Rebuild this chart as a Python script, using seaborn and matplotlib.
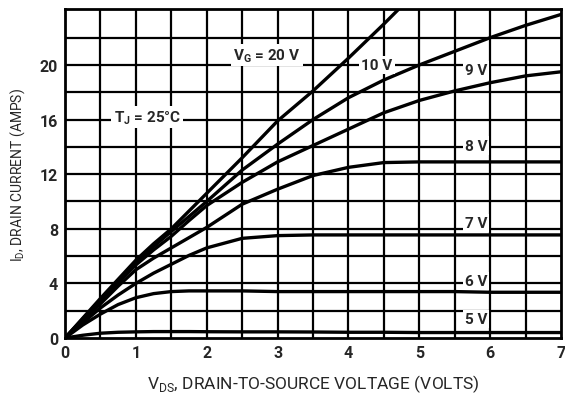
import matplotlib
matplotlib.use("Agg")
import matplotlib.pyplot as plt
import seaborn as sns
import pandas as pd
import numpy as np

# ---- data ----
vds_20 = [0, 0.25, 0.5, 0.75, 1, 1.25, 1.5, 1.75, 2, 2.5, 3, 3.5, 4, 4.5, 4.75]
id_20 = [0, 1.45, 2.9, 4.3, 5.7, 6.9, 8.0, 9.3, 10.6, 13.2, 15.9, 18.1, 20.5, 23.0, 24.3]

vds = [0, 0.25, 0.5, 0.75, 1, 1.25, 1.5, 1.75, 2, 2.5, 3, 3.5, 4, 4.5, 5, 5.5, 6, 6.5, 7]
id_10 = [0, 1.4, 2.8, 4.2, 5.55, 6.7, 7.8, 8.9, 10.0, 12.3, 14.2, 16.0, 17.6, 18.9, 20.0, 21.0, 22.0, 22.9, 23.7]
id_9 = [0, 1.35, 2.7, 4.05, 5.35, 6.45, 7.45, 8.6, 9.7, 11.4, 12.9, 14.1, 15.3, 16.5, 17.4, 18.1, 18.7, 19.2, 19.5]
id_8 = [0, 1.25, 2.5, 3.8, 5.0, 5.85, 6.6, 7.35, 8.1, 9.8, 10.9, 11.9, 12.5, 12.85, 12.9, 12.9, 12.9, 12.9, 12.9]
id_7 = [0, 1.1, 2.2, 3.15, 4.0, 4.75, 5.4, 6.05, 6.6, 7.3, 7.5, 7.55, 7.55, 7.55, 7.55, 7.55, 7.55, 7.55, 7.55]
id_6 = [0, 0.95, 1.75, 2.45, 2.95, 3.25, 3.4, 3.45, 3.45, 3.45, 3.4, 3.4, 3.4, 3.4, 3.4, 3.4, 3.35, 3.35, 3.35]
id_5 = [0, 0.2, 0.35, 0.42, 0.45, 0.47, 0.47, 0.47, 0.46, 0.45, 0.45, 0.44, 0.42, 0.42, 0.4, 0.4, 0.4, 0.4, 0.4]

gate_labels = ["20 V", "10 V", "9 V", "8 V", "7 V", "6 V", "5 V"]

x_ticks = [0, 1, 2, 3, 4, 5, 6, 7]
y_ticks = [0, 4, 8, 12, 16, 20]

# ---- build long table ----
series = [(vds_20, id_20), (vds, id_10), (vds, id_9), (vds, id_8),
          (vds, id_7), (vds, id_6), (vds, id_5)]
frames = []
for lab, (xs, ys) in zip(gate_labels, series):
    frames.append(pd.DataFrame({"VDS": xs, "ID": ys, "VG": lab}))
df = pd.concat(frames, ignore_index=True)

sns.set_style("white")
FONT = ["Roboto", "DejaVu Sans"]
plt.rcParams["font.family"] = FONT
plt.rcParams["font.weight"] = "bold"

fig = plt.figure(figsize=(5.65, 4.02), dpi=100)
ax = fig.add_axes([65 / 565, 1 - 339 / 402, (561 - 65) / 565, (339 - 10) / 402])

# grid
ax.set_xlim(0, 7)
ax.set_ylim(0, 24.1)
for gx in np.arange(0.5, 7.0, 0.5):
    ax.axvline(gx, color="black", lw=1.6, zorder=1)
for gy in np.arange(2, 24, 2):
    ax.axhline(gy, color="black", lw=1.6, zorder=1)

sns.lineplot(data=df, x="VDS", y="ID", hue="VG", palette=["black"] * 7,
             linewidth=2.4, legend=False, ax=ax, sort=False, zorder=3)

for s in ax.spines.values():
    s.set_color("black")
    s.set_linewidth(2.0)

ax.set_xticks(x_ticks)
ax.set_yticks(y_ticks)
ax.tick_params(length=0, labelsize=11.5, pad=5)
for t in ax.get_xticklabels() + ax.get_yticklabels():
    t.set_fontweight("bold")

ax.set_xlabel("V$_\\mathregular{DS}$, DRAIN-TO-SOURCE VOLTAGE (VOLTS)",
              fontsize=12.5, labelpad=9)
ax.set_ylabel("I$_\\mathregular{D}$, DRAIN CURRENT (AMPS)", fontsize=10, labelpad=9)

box = dict(facecolor="white", edgecolor="none", pad=1.5)
txt = dict(fontsize=11, ha="center", va="center", zorder=4, bbox=box)
ax.text(2.85, 20.7, "V$_\\mathregular{G}$ = 20 V", **txt)
ax.text(4.4, 20.0, "10 V", **txt)
ax.text(5.8, 19.6, "9 V", **txt)
ax.text(5.8, 14.1, "8 V", **txt)
ax.text(5.8, 8.4, "7 V", **txt)
ax.text(5.8, 4.2, "6 V", **txt)
ax.text(5.8, 1.4, "5 V", **txt)
ax.text(1.16, 16.2, "T$_\\mathregular{J}$ = 25°C", **txt)

fig.savefig("out.png", dpi=100)
